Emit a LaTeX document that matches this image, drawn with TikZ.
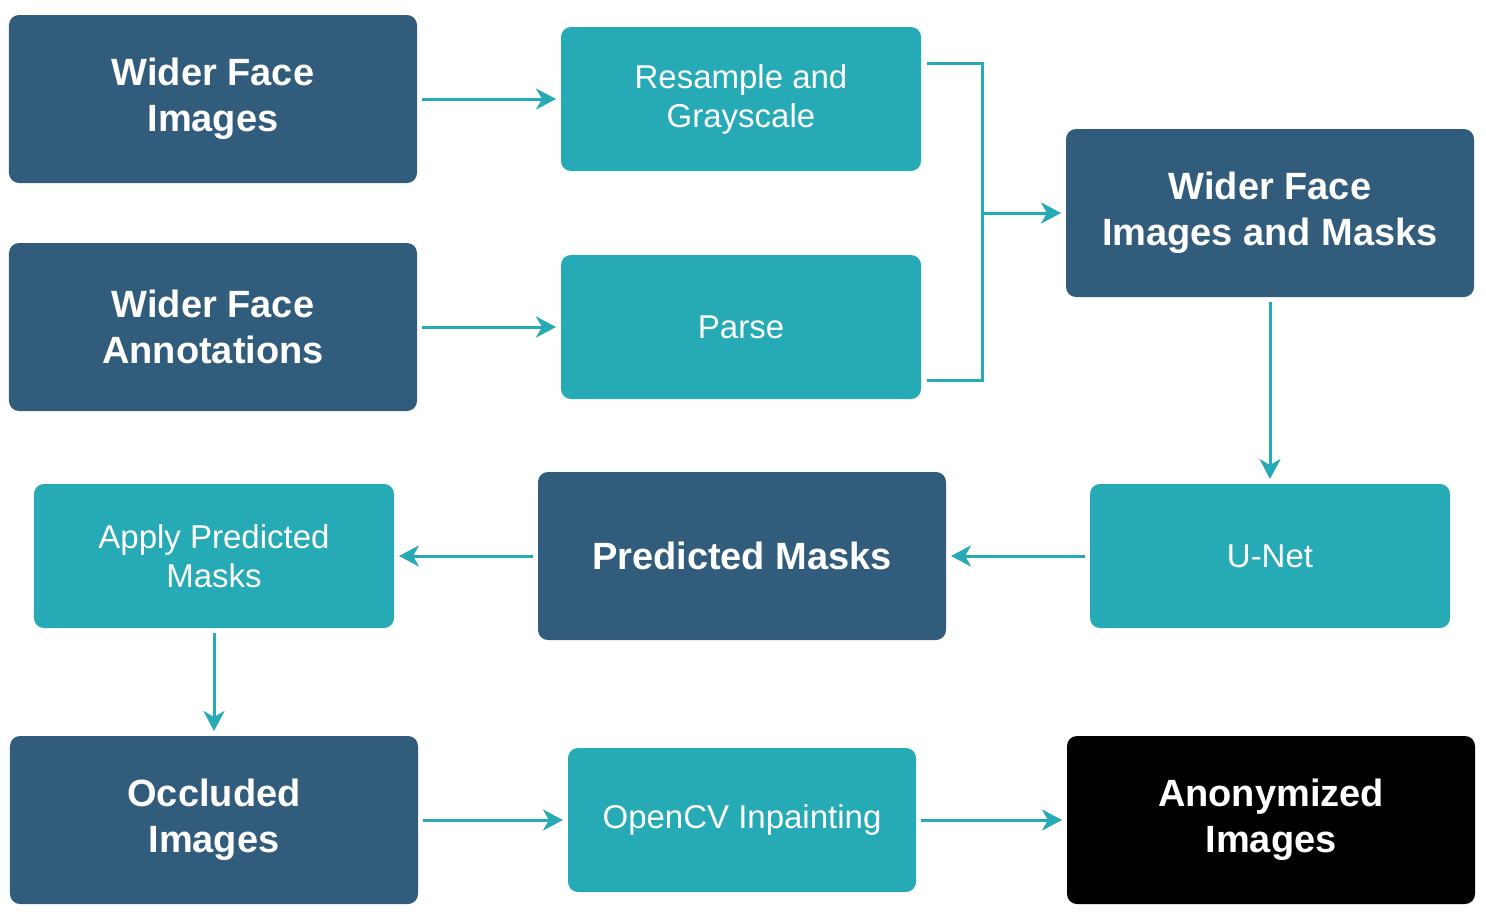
\documentclass[tikz,border=0pt]{standalone}
\usepackage{fontspec}
\setmainfont{Liberation Sans}
\definecolor{wfdark}{HTML}{315C7B}
\definecolor{wfteal}{HTML}{26AAB5}
\usetikzlibrary{arrows.meta,positioning,calc}

\begin{document}
\begin{tikzpicture}[
  data/.style={fill=#1, rounded corners=5pt, text=white, align=center, outer sep=0pt,
    font=\fontsize{19}{23}\selectfont\bfseries, minimum width=204pt, minimum height=84pt},
  data/.default=wfdark,
  proc/.style={fill=wfteal, rounded corners=5pt, text=white, align=center, outer sep=0pt,
    font=\fontsize{16.5}{19.5}\selectfont, minimum width=180pt, minimum height=72pt},
  flow/.style={-{Stealth[length=10pt,width=10.5pt,inset=3pt]}, line width=1.5pt, wfteal,
    shorten <=2.5pt, shorten >=2.5pt}
]
  \useasboundingbox (-106.5pt,49.5pt) rectangle (636.5pt,-408.5pt);

  % Inputs
  \node[data] (images) {Wider Face\\Images};
  \node[data, below=30pt of images] (annot) {Wider Face\\Annotations};
  \node[proc, right=72pt of images] (resample) {Resample and\\Grayscale};
  \node[proc, right=72pt of annot] (parse) {Parse};
  \node[data, right=72.5pt of $(resample.east)!0.5!(parse.east)$] (dataset) {Wider Face\\Images and Masks};

  % Model
  \node[proc, below=93.5pt of dataset] (unet) {U-Net};
  \node[data, left=72pt of unet] (predicted) {Predicted Masks};
  \node[proc, left=72pt of predicted] (apply) {Apply Predicted\\Masks};

  % Output
  \node[data, below=54pt of apply] (occluded) {Occluded\\Images};
  \node[proc, minimum width=174pt, right=75pt of occluded] (inpaint) {OpenCV Inpainting};
  \node[data=black, right=75.5pt of inpaint] (anon) {Anonymized\\Images};

  \draw[flow] (images) -- (resample);
  \draw[flow] (annot) -- (parse);

  % Bracket joining both branches
  \coordinate (join) at ($(resample.east)!0.5!(parse.east)+(30.5pt,0)$);
  \draw[line width=1.5pt, wfteal] ([xshift=3pt,yshift=18pt]resample.east) -| (join)
    |- ([xshift=3pt,yshift=-26.5pt]parse.east);
  \draw[flow, shorten <=0pt] (join) -- (join -| dataset.west);

  \draw[flow] (dataset) -- (unet);
  \draw[flow] (unet) -- (predicted);
  \draw[flow] (predicted) -- (apply);
  \draw[flow] (apply) -- (occluded);
  \draw[flow] (occluded) -- (inpaint);
  \draw[flow] (inpaint) -- (anon);
\end{tikzpicture}
\end{document}
